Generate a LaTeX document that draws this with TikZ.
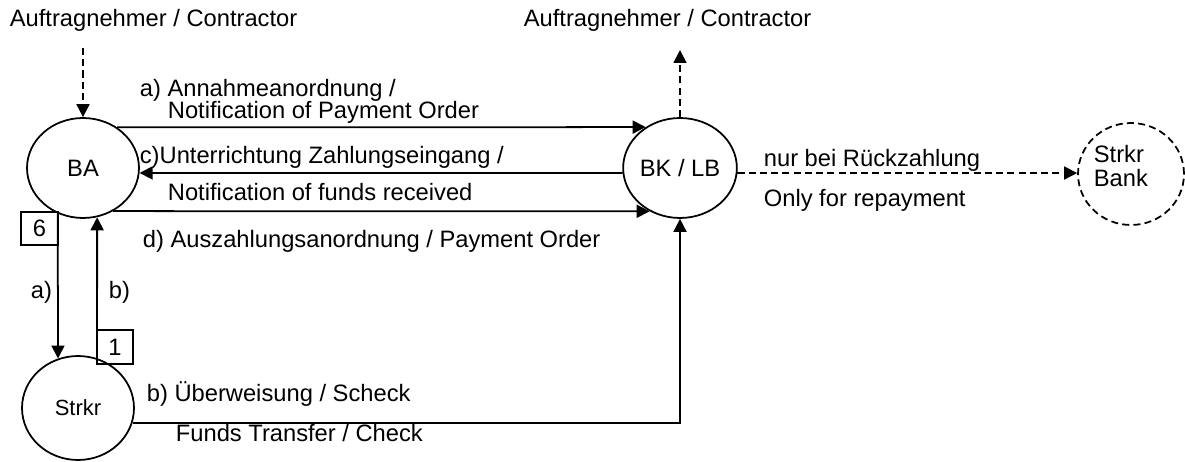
\documentclass[tikz,border=0pt]{standalone}
\usepackage{fontspec}
\setmainfont{Liberation Sans}
\usetikzlibrary{shapes.geometric,arrows.meta}

\begin{document}
\begin{tikzpicture}[x=0.02cm, y=-0.02cm, line width=1pt,
    party/.style={draw, ellipse, inner sep=0, minimum width=2.24cm, minimum height=2cm},
    flow/.style={-{Triangle[length=2.6mm,width=2.6mm]}},
    maybe/.style={dash pattern=on 4pt off 2.4pt},
    lbl/.style={anchor=west, inner sep=0, text height=0.72em, text depth=0pt},
    numbox/.style={draw, inner sep=0, minimum width=0.73cm, minimum height=0.67cm}]
\fontsize{13.5}{14}\selectfont
\useasboundingbox (0,0) rectangle (1185,462);

% parties
\node[party] (BA) at (83,168) {BA};
\node[party] (BK) at (680,168) {BK / LB};
\node[party, minimum height=2.08cm] (Strkr) at (78,408) {\fontsize{12.5}{14}\selectfont Strkr};
\node[party, maybe, minimum width=2.12cm, minimum height=2.04cm] (Bank) at (1131,174) {};
\node[anchor=north west, inner sep=0, align=left] (bankname) at (1093,144) {Strkr\\Bank};

% contractor
\node[lbl] (contrA) at (9,18) {Auftragnehmer / Contractor};
\node[lbl] (contrB) at (523,18) {Auftragnehmer / Contractor};
\coordinate (inA) at (83,48);
\coordinate (outB) at (680,50);
\draw[maybe, flow] (inA) -- (BA);
\draw[maybe, flow] (BK) -- (outB);

% BA <-> BK/LB
\draw[flow] (BA.50) -- (BK.130);
\draw[flow] (BK.185) -- (BA.-5);
\draw[flow] (BA.-55) -- (BK.-125);
\node[lbl] (annA) at (139,88) {a) Annahmeanordnung /};
\node[lbl] (annB) at (167,110) {Notification of Payment Order};
\node[lbl] (unterA) at (139,155) {c)Unterrichtung Zahlungseingang /};
\node[lbl] (unterB) at (167,192) {Notification of funds received};
\node[lbl] (ausz) at (142,239) {d) Auszahlungsanordnung / Payment Order};

% BA <-> Strkr
\draw[flow] (BA.-119) -- (Strkr.112);
\draw[flow] (Strkr.69) -- (BA.-74);
\node[numbox] (six) at (39.5,228.5) {6};
\node[numbox] (one) at (115,347) {1};
\node[lbl] (stepA) at (30,290) {a)};
\node[lbl] (stepB) at (108,290) {b)};

% Strkr -> BK/LB
\draw[flow] (Strkr.-15) -| (BK.south);
\node[lbl] (uebA) at (146,393) {b) Überweisung / Scheck};
\node[lbl] (uebB) at (175,433) {Funds Transfer / Check};

% BK/LB -> Strkr Bank
\draw[maybe, flow] (BK.-5) -- (BK.-5 -| Bank.west);
\node[lbl] (rueckA) at (763,158) {nur bei Rückzahlung};
\node[lbl] (rueckB) at (763,198) {Only for repayment};
\end{tikzpicture}
\end{document}
